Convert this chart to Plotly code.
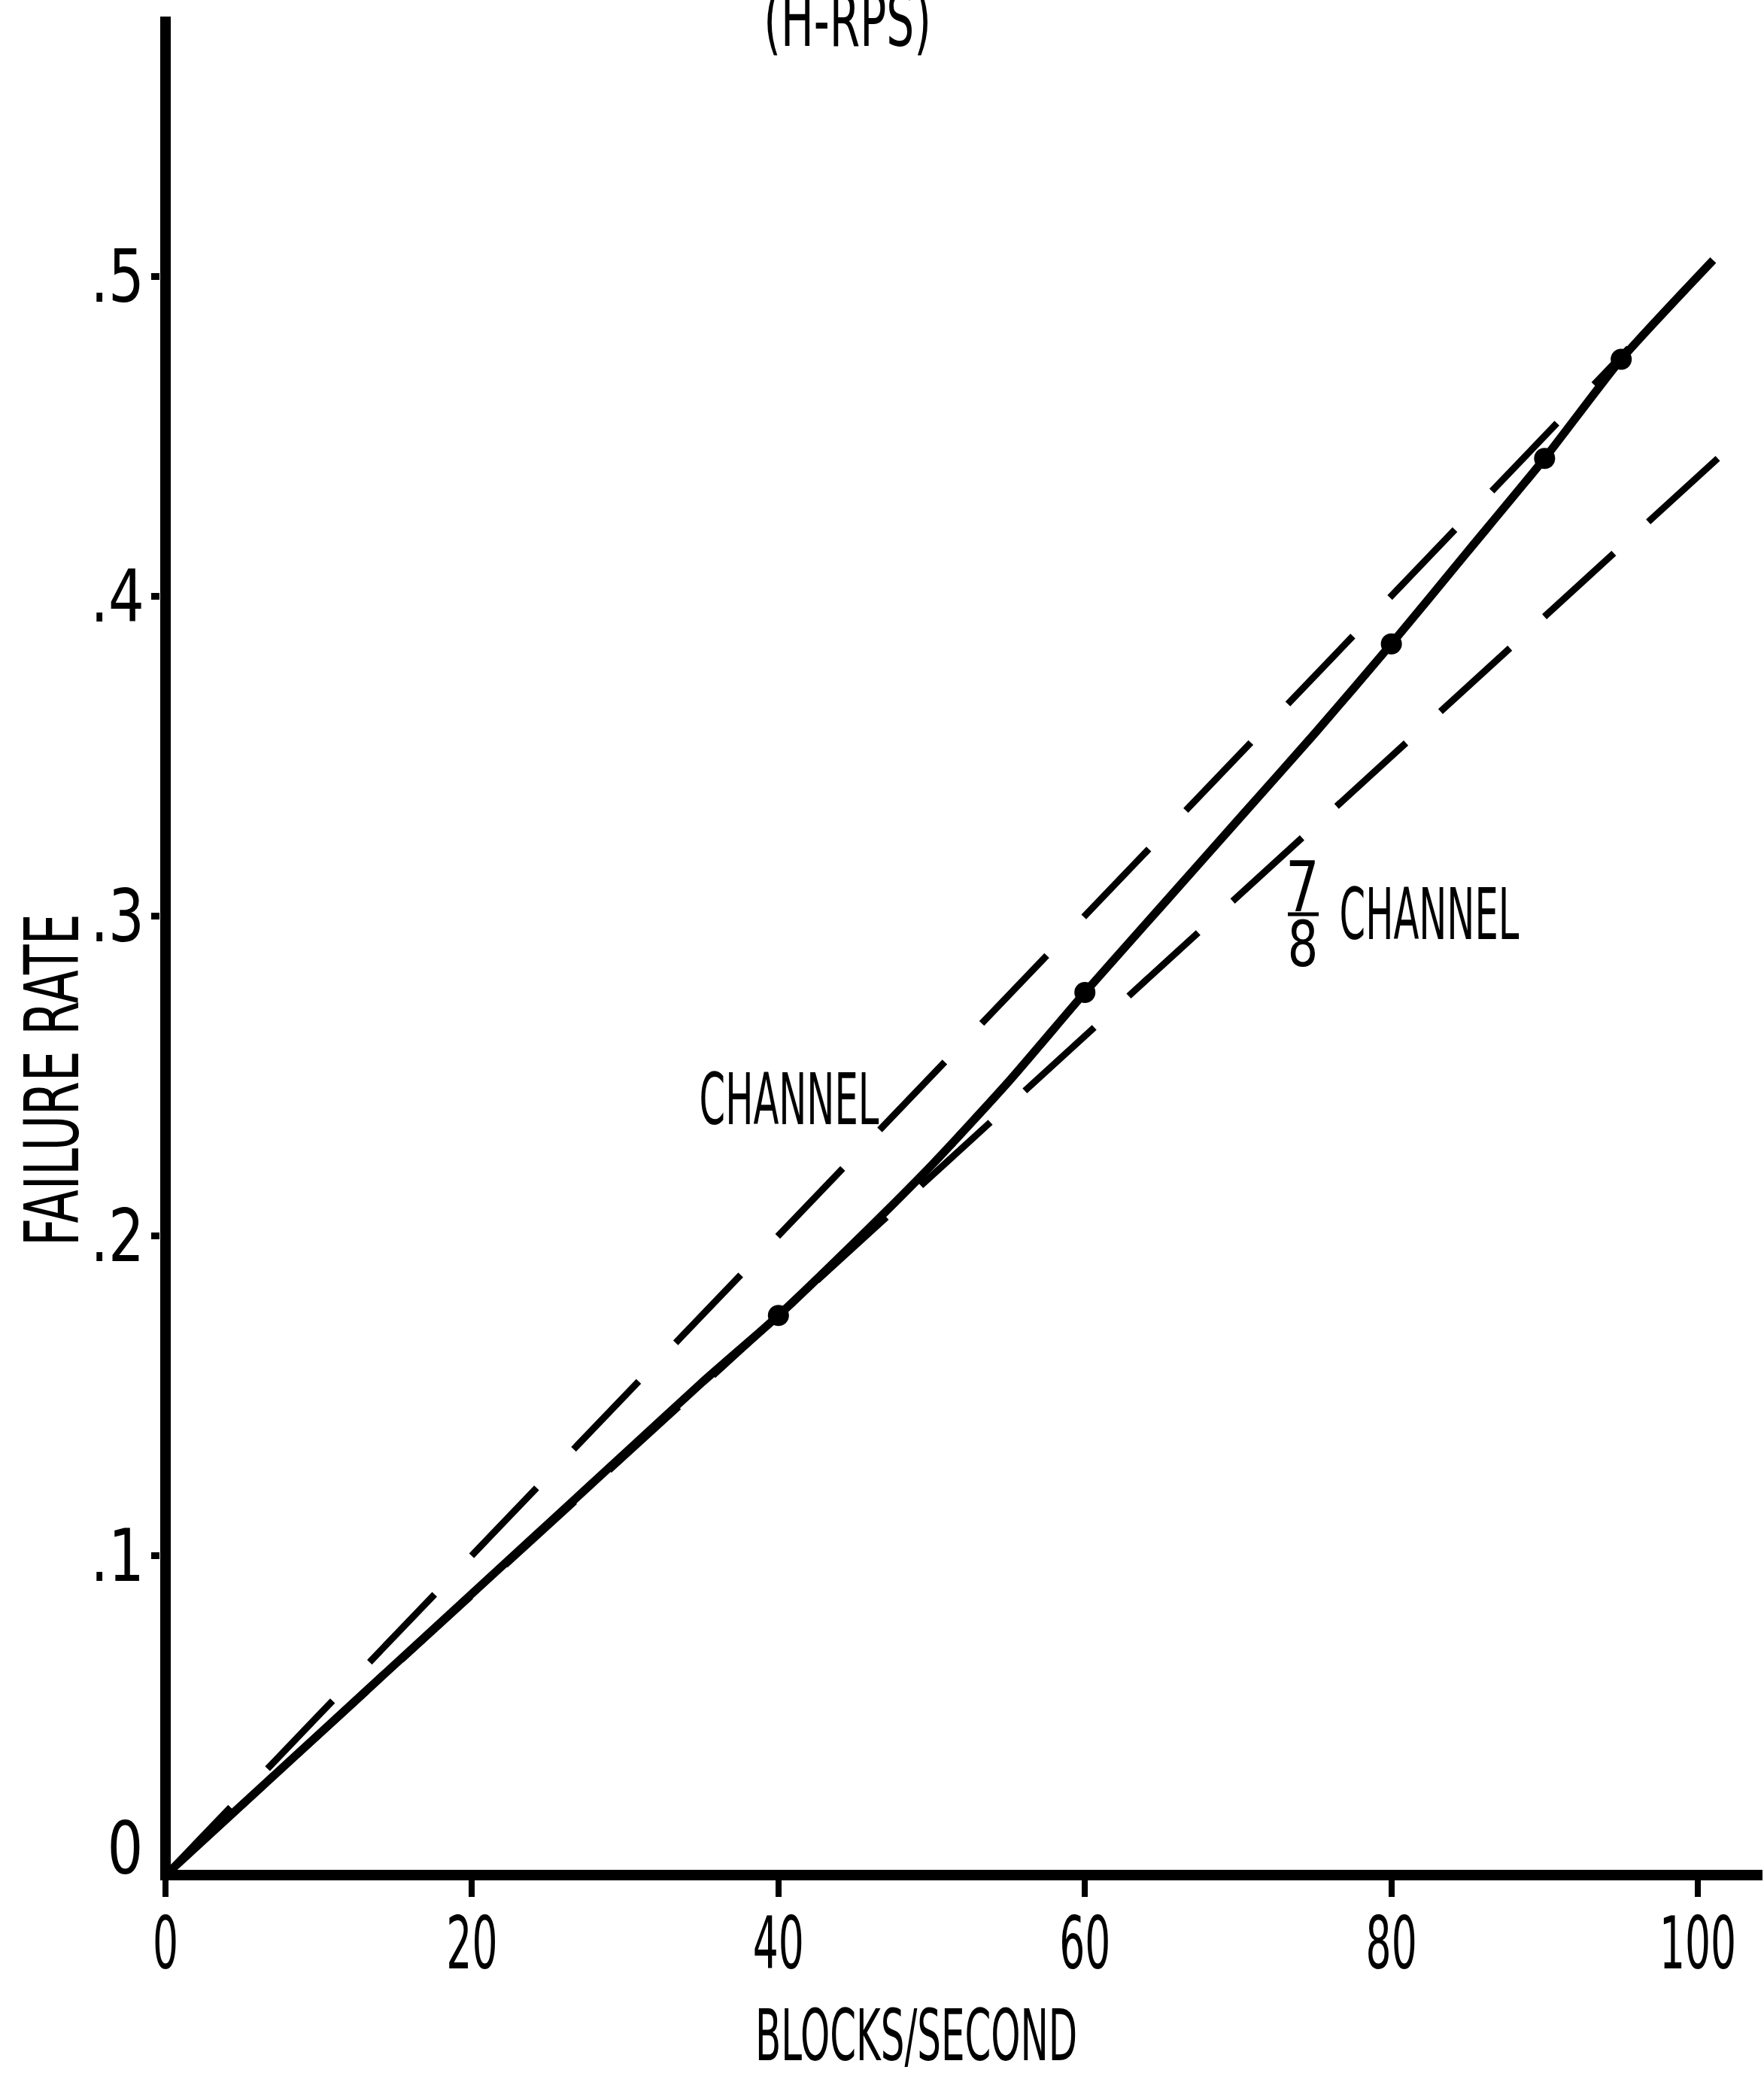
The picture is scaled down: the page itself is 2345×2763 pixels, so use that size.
import plotly.graph_objects as go

# Failure rate of the H-RPS versus block rate
blocks_per_sec = [0, 10, 20, 30, 35, 40, 45, 50, 55, 60, 65, 70, 75, 80, 85, 90, 95, 101]
failure_rate = [0, 0.044, 0.088, 0.132, 0.154, 0.175, 0.198, 0.222, 0.248, 0.276,
                0.303, 0.330, 0.357, 0.385, 0.414, 0.443, 0.474, 0.505]

# plotted test points on the curve
point_x = [40, 60, 80, 90, 95]
point_y = [0.175, 0.276, 0.385, 0.443, 0.474]

# single-channel reference line
channel_x = [0, 95.5]
channel_y = [0, 0.4775]

# 7/8-channel reference line (drawn from its far end back to the origin)
seven_eighths_x = [101.3, 0]
seven_eighths_y = [0.443, 0]

x_tick_vals = [0, 20, 40, 60, 80, 100]
x_tick_text = ["0", "20", "40", "60", "80", "100"]
# the y-axis zero label sits above the axis line and is placed separately
y_tick_vals = [0.1, 0.2, 0.3, 0.4, 0.5]
y_tick_text = [".1", ".2", ".3", ".4", ".5"]
y_zero_label = "0"

FONT = "Liberation Sans Narrow, DejaVu Sans Condensed, Arial Narrow, sans-serif"
W, H = 2345, 2763
ML, MR, MT, MB = 213, 2, 22, 265
PW, PH = W - ML - MR, H - MT - MB


def px(x):
    return (x - ML) / PW


def py(y):
    return (H - MB - y) / PH


fig = go.Figure()

fig.add_trace(go.Scatter(
    x=channel_x, y=channel_y, mode="lines",
    line=dict(color="black", width=9, dash="125px,71px"),
    showlegend=False, hoverinfo="skip"))

fig.add_trace(go.Scatter(
    x=seven_eighths_x, y=seven_eighths_y, mode="lines",
    line=dict(color="black", width=9, dash="125px,62px"),
    showlegend=False, hoverinfo="skip"))

fig.add_trace(go.Scatter(
    x=blocks_per_sec, y=failure_rate, mode="lines",
    line=dict(color="black", width=11, shape="spline", smoothing=0.6),
    showlegend=False))

fig.add_trace(go.Scatter(
    x=point_x, y=point_y, mode="markers",
    marker=dict(color="black", size=28),
    showlegend=False))

annotations = [
    dict(text="(H-RPS)", x=px(1126), y=py(27), size=98),
    dict(text="CHANNEL", x=px(1049), y=py(1461), size=95),
    dict(text="CHANNEL", x=px(1900), y=py(1215), size=95),
    dict(text="7", x=px(1731), y=py(1179), size=92),
    dict(text="8", x=px(1732), y=py(1255), size=84),
    dict(text="BLOCKS/SECOND", x=px(1218), y=py(2705), size=94),
    dict(text="FAILURE RATE", x=px(70), y=py(1436), size=100, angle=-90),
    dict(text=y_zero_label, x=px(166), y=py(2457), size=96),
]

fig.update_layout(
    width=W, height=H, autosize=False,
    margin=dict(l=ML, r=MR, t=MT, b=MB, pad=0),
    paper_bgcolor="white", plot_bgcolor="white",
    font=dict(family=FONT, color="black"),
    xaxis=dict(
        range=[-0.3437, 104.22], showgrid=False, showline=False,
        zeroline=True, zerolinecolor="black", zerolinewidth=14,
        ticks="outside", ticklen=22, tickwidth=8, tickcolor="black",
        tickvals=x_tick_vals, ticktext=x_tick_text,
        tickfont=dict(family=FONT, size=96, color="black"),
        ticklabelstandoff=-20,
    ),
    yaxis=dict(
        range=[-0.00141, 0.58118], showgrid=False, showline=False,
        zeroline=True, zerolinecolor="black", zerolinewidth=14,
        ticks="outside", ticklen=11, tickwidth=9, tickcolor="black",
        tickvals=y_tick_vals, ticktext=y_tick_text,
        tickfont=dict(family=FONT, size=96, color="black"),
        ticklabelstandoff=-10,
    ),
    annotations=[
        dict(text=a["text"], x=a["x"], y=a["y"], xref="paper", yref="paper",
             xanchor="center", yanchor="middle", showarrow=False,
             textangle=a.get("angle", 0),
             font=dict(family=FONT, size=a["size"], color="black"))
        for a in annotations
    ],
    shapes=[
        # fraction bar of the 7/8 label
        dict(type="line", xref="paper", yref="paper",
             x0=px(1712), x1=px(1753), y0=py(1215), y1=py(1215),
             line=dict(color="black", width=5)),
    ],
)

# Narrow the lettering horizontally to get the tall, condensed stencil look
squeeze_js = """
var gd = document.querySelector('.plotly-graph-div');
var factors = {"CHANNEL":0.58, "BLOCKS/SECOND":0.59, "FAILURE RATE":0.72,
               "(H-RPS)":0.66, "7":0.85, "8":0.85, "0":0.87};
function squeeze(t, s) {
  var x = parseFloat(t.getAttribute('x')) || 0;
  var y = parseFloat(t.getAttribute('y')) || 0;
  var tr = t.getAttribute('transform') || '';
  t.setAttribute('transform', tr + ' translate(' + x + ',' + y + ') scale(' + s + ',1) translate(' + (-x) + ',' + (-y) + ')');
}
gd.querySelectorAll('g.xtick text').forEach(function(t) { squeeze(t, 0.62); });
gd.querySelectorAll('g.ytick text').forEach(function(t) { squeeze(t, 0.87); });
gd.querySelectorAll('text.annotation-text').forEach(function(t) {
  var s = factors[t.textContent];
  if (s) { squeeze(t, s); }
});
"""

fig.write_html("out.html", post_script=squeeze_js)
